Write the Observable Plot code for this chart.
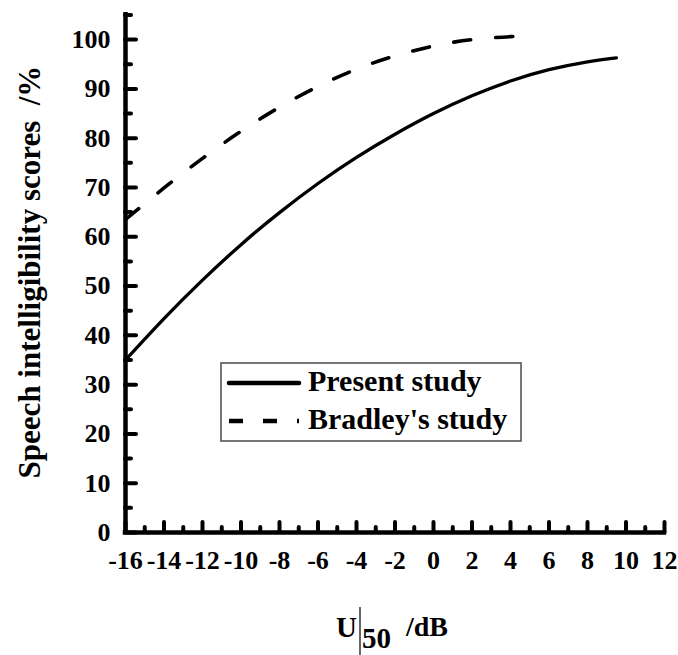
<!DOCTYPE html>
<html>
<head>
<meta charset="utf-8">
<script src="https://cdn.jsdelivr.net/npm/d3@7"></script>
<script src="https://cdn.jsdelivr.net/npm/@observablehq/plot@0.6"></script>
<style>
  html, body { margin: 0; padding: 0; background: #fff; }
  #chart svg { display: block; }
</style>
</head>
<body>
<div id="chart"></div>
<script>
// ---- data ----
const presentX = [-16, -14, -12, -10, -8, -6, -4, -2, 0, 2, 4, 6, 8, 9.5];
const presentY = [35.0, 43.4, 51.2, 58.4, 64.9, 70.8, 76.1, 80.8, 85.0, 88.6, 91.6, 93.9, 95.5, 96.3];
const bradleyX = [-16, -14, -12, -10, -8, -6, -4, -2, 0, 2, 4, 4.8];
const bradleyY = [63.5, 69.9, 75.9, 81.4, 86.3, 90.5, 94.0, 96.7, 98.7, 100.0, 100.6, 100.7];
const seriesNames = ["Present study", "Bradley's study"];
const xMajorTicks = [-16, -14, -12, -10, -8, -6, -4, -2, 0, 2, 4, 6, 8, 10, 12];
const xMinorTicks = [-15, -13, -11, -9, -7, -5, -3, -1, 1, 3, 5, 7, 9, 11];
const yMajorTicks = [0, 10, 20, 30, 40, 50, 60, 70, 80, 90, 100];
const yMinorTicks = [5, 15, 25, 35, 45, 55, 65, 75, 85, 95, 105];
const xLabelParts = ["U", "50", "/dB"];
const yLabel = "Speech intelligibility scores\u00a0 /%";

const present = presentX.map((x, i) => ({x, y: presentY[i]}));
const bradley = bradleyX.map((x, i) => ({x, y: bradleyY[i]}));

const FONT = "'Liberation Serif', 'Times New Roman', serif";

const chart = Plot.plot({
  width: 678,
  height: 655,
  marginLeft: 125,
  marginRight: 14,
  marginTop: 12,
  marginBottom: 123,
  style: {fontFamily: FONT, fontWeight: "bold", color: "#000", background: "#fff", overflow: "visible"},
  x: {domain: [-16, 12]},
  y: {domain: [0, 105.5]},
  marks: [
    // curves
    Plot.line(present, {x: "x", y: "y", curve: "natural", stroke: "#000", strokeWidth: 3.3}),
    Plot.line(bradley, {x: "x", y: "y", curve: "natural", stroke: "#000", strokeWidth: 3.6,
      strokeDasharray: "17,25", strokeLinecap: "round"}),
    // inward ticks
    Plot.axisX(xMajorTicks, {tickSize: -10, tickFormat: () => "", strokeWidth: 4, strokeLinecap: "round", label: null}),
    Plot.axisX(xMinorTicks, {tickSize: -5, tickFormat: () => "", strokeWidth: 4, strokeLinecap: "round", label: null}),
    Plot.axisY(yMajorTicks, {tickSize: -11, tickFormat: () => "", strokeWidth: 4, strokeLinecap: "round", label: null}),
    Plot.axisY(yMinorTicks, {tickSize: -6, tickFormat: () => "", strokeWidth: 4, strokeLinecap: "round", label: null}),
    // tick labels
    Plot.axisX(xMajorTicks, {tickSize: 0, tickPadding: 18, fontSize: 26, label: null, tickFormat: d => String(d)}),
    Plot.axisY(yMajorTicks, {tickSize: 0, tickPadding: 15, fontSize: 26, label: null, tickFormat: d => String(d)}),
    // axis lines
    Plot.ruleX([-16], {stroke: "#000", strokeWidth: 4.5}),
    Plot.ruleY([0], {stroke: "#000", strokeWidth: 4.5, strokeLinecap: "square"})
  ]
});

document.getElementById("chart").appendChild(chart);

const svg = d3.select(chart);
svg.selectAll("text").attr("fill", "#000");

// y axis title
svg.append("text")
  .attr("transform", "translate(40,272) rotate(-90)")
  .attr("text-anchor", "middle")
  .attr("font-family", FONT).attr("font-weight", "bold").attr("font-size", 31)
  .attr("fill", "#000")
  .text(yLabel);

// x axis title: U | 50 /dB
const xt = svg.append("g").attr("font-family", FONT).attr("font-weight", "bold")
  .attr("fill", "#000").attr("text-anchor", "start");
xt.append("text").attr("x", 336).attr("y", 637).attr("font-size", 29).text(xLabelParts[0]);
xt.append("line").attr("x1", 360).attr("x2", 360).attr("y1", 607).attr("y2", 655).attr("stroke", "#000").attr("stroke-width", 1.2);
xt.append("text").attr("x", 362).attr("y", 648).attr("font-size", 29).text(xLabelParts[1]);
xt.append("text").attr("x", 406).attr("y", 636).attr("font-size", 28).text(xLabelParts[2]);

// legend box
const lg = svg.append("g").attr("text-anchor", "start");
lg.append("rect").attr("x", 221).attr("y", 363).attr("width", 300).attr("height", 78)
  .attr("fill", "#fff").attr("stroke", "#555").attr("stroke-width", 1.6);
lg.append("line").attr("x1", 229).attr("x2", 299).attr("y1", 383).attr("y2", 383)
  .attr("stroke", "#000").attr("stroke-width", 4.5).attr("stroke-linecap", "round");
lg.append("line").attr("x1", 229).attr("x2", 299).attr("y1", 421).attr("y2", 421)
  .attr("stroke", "#000").attr("stroke-width", 4.5).attr("stroke-dasharray", "14,20");
lg.append("text").attr("x", 308).attr("y", 391).attr("font-family", FONT).attr("font-weight", "bold")
  .attr("font-size", 30).attr("fill", "#000").text(seriesNames[0]);
lg.append("text").attr("x", 308).attr("y", 429).attr("font-family", FONT).attr("font-weight", "bold")
  .attr("font-size", 30).attr("fill", "#000").text(seriesNames[1]);
</script>
</body>
</html>
